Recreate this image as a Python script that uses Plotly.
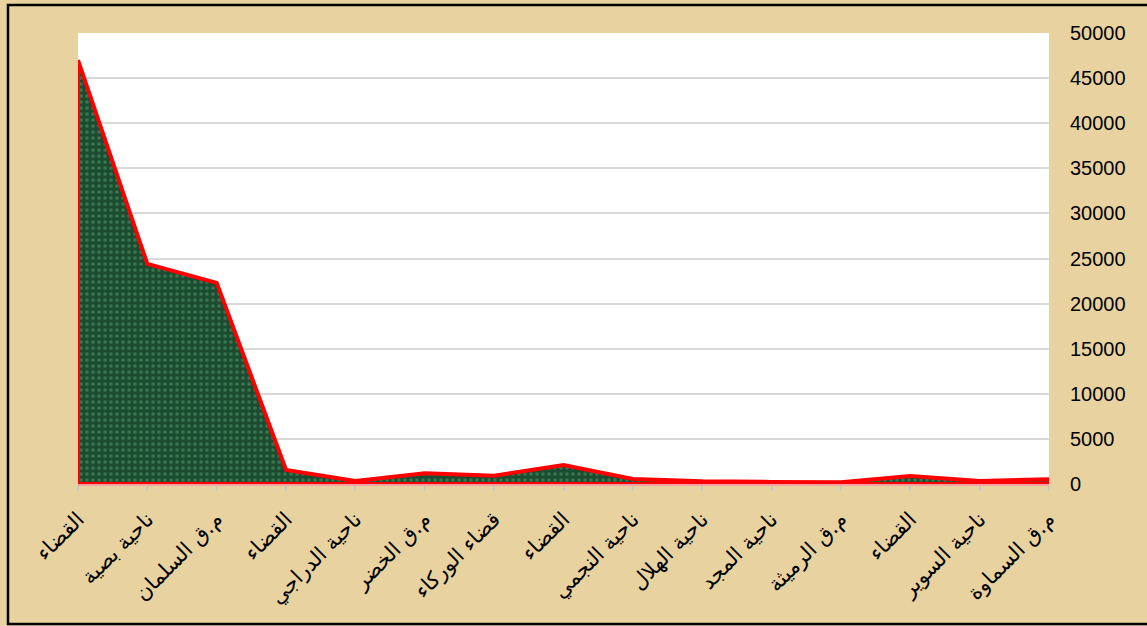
import plotly.graph_objects as go

categories = [
    "القضاء", "ناحية بصية", "م.ق السلمان", "القضاء", "ناحية الدراجي",
    "م.ق الخضر", "قضاء الوركاء", "القضاء", "ناحية النجمي", "ناحية الهلال",
    "ناحية المجد", "م.ق الرميثة", "القضاء", "ناحية السوير", "م.ق السماوة",
]
values = [47000, 24400, 22300, 1550, 330, 1180, 920, 2100, 550, 300,
          230, 190, 890, 330, 520]
y_ticks = [0, 5000, 10000, 15000, 20000, 25000, 30000, 35000, 40000, 45000, 50000]

idx = list(range(len(categories)))
poly_x = idx + [idx[-1], idx[0], idx[0]]
poly_y = values + [0, 0, values[0]]

fig = go.Figure()
fig.add_trace(go.Scatter(
    x=poly_x, y=poly_y, mode="lines", fill="toself",
    fillcolor="#1d5434",
    fillpattern=dict(shape=".", fgcolor="#3a7552", bgcolor="#1b4c30",
                     size=6, solidity=0.3, fillmode="replace"),
    line=dict(color="#ff0000", width=4),
    hoverinfo="skip", showlegend=False,
))

L, R, T, B = 78, 98, 33, 142
W, H = 1147, 626
pw, ph = W - L - R, H - T - B

def px_to_paper_x(px):
    return (px - L) / pw

def px_to_paper_y(py):
    return (H - B - py) / ph

fig.add_shape(type="rect", xref="paper", yref="paper",
              x0=px_to_paper_x(8), x1=px_to_paper_x(1155),
              y0=px_to_paper_y(624), y1=px_to_paper_y(5),
              line=dict(color="black", width=2.5), fillcolor="rgba(0,0,0,0)",
              layer="above")

fig.update_layout(
    width=W, height=H,
    margin=dict(l=L, r=R, t=T, b=B, pad=0),
    paper_bgcolor="#e8d3a0",
    plot_bgcolor="white",
    showlegend=False,
    xaxis=dict(
        range=[0, len(categories) - 1],
        tickmode="array", tickvals=idx, ticktext=categories,
        tickangle=-45,
        tickfont=dict(family="DejaVu Sans", size=21, color="black"),
        ticks="outside", ticklen=5, tickcolor="#c8c8c8", tickwidth=1.5,
        showline=True, linecolor="#f2a3a3", linewidth=1.5,
        showgrid=False, zeroline=False,
        ticklabelstandoff=8,
    ),
    yaxis=dict(
        side="right",
        range=[0, 50000],
        tickmode="array", tickvals=y_ticks,
        ticktext=[str(v) for v in y_ticks],
        tickfont=dict(family="Liberation Sans", size=20, color="black"),
        showgrid=True, gridcolor="#d9d9d9", gridwidth=1.5,
        zeroline=False, showline=False, ticks="",
        ticklabelstandoff=20,
    ),
)

fig.write_html("out.html",
               config={"displayModeBar": False},
               post_script="document.body.style.margin='0';")
